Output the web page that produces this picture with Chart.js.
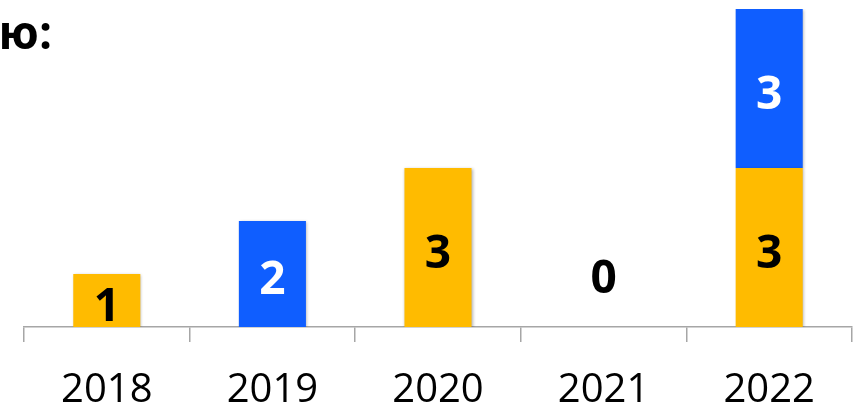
<!DOCTYPE html>
<html>
<head>
<meta charset="utf-8">
<script src="https://cdn.jsdelivr.net/npm/chart.js@4.4.1/dist/chart.umd.min.js"></script>
<style>
  html, body { margin: 0; padding: 0; background: #fff; }
  #wrap { width: 861px; height: 407px; position: relative; }
</style>
</head>
<body>
<div id="wrap"><canvas id="graphique"></canvas></div>
<script>
var years = ['2018', '2019', '2020', '2021', '2022'];
var jaune = [1, 0, 3, 0, 3];
var bleu = [0, 2, 0, 0, 3];
var titreCoupe = 'ию:';

// labels drawn in the middle of each segment, "0" above empty columns
var etiquettes = {
    id: 'etiquettes',
    afterDatasetsDraw: function(chart) {
        var ctx = chart.ctx;
        var y = chart.scales.y;
        ctx.save();
        ctx.font = 'bold 46px "Open Sans"';
        ctx.textAlign = 'center';
        ctx.textBaseline = 'alphabetic';
        chart.data.datasets.forEach(function(ds, i) {
            var meta = chart.getDatasetMeta(i);
            meta.data.forEach(function(bar, j) {
                if (!ds.data[j]) return;
                var milieu = (bar.y + bar.base) / 2;
                ctx.fillStyle = i === 0 ? '#000' : '#fff';
                ctx.fillText(String(ds.data[j]), bar.x, milieu + 20);
            });
        });
        years.forEach(function(a, j) {
            if (jaune[j] + bleu[j] === 0) {
                var x = chart.scales.x.getPixelForValue(j);
                ctx.fillStyle = '#000';
                ctx.fillText('0', x, y.getPixelForValue(0.96) + 17);
            }
        });
        // bout du titre coupé à gauche
        ctx.textAlign = 'right';
        ctx.fillStyle = '#000';
        ctx.fillText(titreCoupe, 52, 49);
        ctx.restore();
    }
};

var ombre = {
    id: 'ombre',
    beforeDatasetsDraw: function(chart) {
        var ctx = chart.ctx;
        ctx.save();
        ctx.shadowColor = 'rgba(0,0,0,0.3)';
        ctx.shadowBlur = 3;
        ctx.shadowOffsetX = 1;
        ctx.shadowOffsetY = 1;
    },
    afterDatasetsDraw: function(chart) {
        chart.ctx.restore();
    }
};

var ctx = document.getElementById('graphique').getContext('2d');
var graphique = new Chart(ctx, {
    type: 'bar',
    data: {
        labels: years,
        datasets: [{
            data: jaune,
            backgroundColor: '#FFBB00',
            barPercentage: 0.405,
            categoryPercentage: 1
        }, {
            data: bleu,
            backgroundColor: '#0F5EFF',
            barPercentage: 0.405,
            categoryPercentage: 1
        }]
    },
    options: {
        responsive: true,
        maintainAspectRatio: false,
        animation: false,
        layout: { padding: { left: 24, right: 9, top: 9, bottom: 0 } },
        plugins: {
            legend: { display: false },
            tooltip: { enabled: false }
        },
        scales: {
            x: {
                stacked: true,
                afterFit: function(scale) { scale.height = 80; },
                grid: {
                    offset: true,
                    drawOnChartArea: false,
                    tickLength: 15,
                    color: '#A6A6A6',
                    lineWidth: 1.5
                },
                border: { color: '#A6A6A6', width: 1.5 },
                ticks: {
                    color: '#000',
                    padding: 29,
                    font: { family: '"Open Sans"', size: 40, lineHeight: 1 }
                }
            },
            y: {
                stacked: true,
                display: false,
                min: 0,
                max: 6
            }
        }
    },
    plugins: [ombre, etiquettes]
});
</script>
</body>
</html>
